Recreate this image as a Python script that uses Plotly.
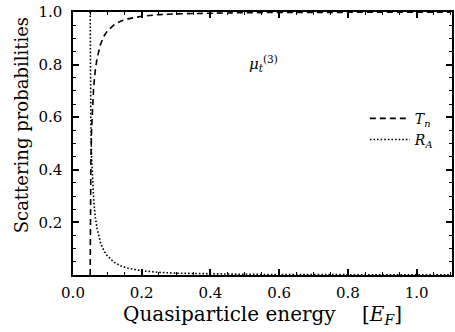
import plotly.graph_objects as go

# Quasiparticle energy [E_F]
energy = [0.05, 0.051, 0.052, 0.054, 0.056, 0.06, 0.065, 0.07, 0.08, 0.09, 0.1,
          0.12, 0.14, 0.16, 0.2, 0.25, 0.3, 0.4, 0.5, 0.6, 0.8, 1.0, 1.1]
# Andreev reflection probability R_A
r_a = [1.0, 0.671, 0.569, 0.452, 0.379, 0.288, 0.220, 0.177, 0.123, 0.092, 0.072,
       0.048, 0.034, 0.026, 0.016, 0.010, 0.007, 0.004, 0.0025, 0.0017, 0.001, 0.0006, 0.0005]
# Normal transmission probability T_n
t_n = [0.0, 0.329, 0.431, 0.548, 0.621, 0.712, 0.780, 0.823, 0.877, 0.908, 0.928,
       0.952, 0.966, 0.974, 0.984, 0.990, 0.993, 0.996, 0.9975, 0.9983, 0.999, 0.9994, 0.9995]

x_ticks = [0.0, 0.2, 0.4, 0.6, 0.8, 1.0]
y_ticks = [0.2, 0.4, 0.6, 0.8, 1.0]

FONT = "'DejaVu Serif', 'Liberation Serif', serif"

fig = go.Figure()
fig.add_trace(go.Scatter(
    x=energy, y=t_n, mode="lines", name="<i>T</i><sub><i>n</i></sub>",
    line=dict(color="black", width=1.6, dash="6px,4px"),
))
fig.add_trace(go.Scatter(
    x=energy, y=r_a, mode="lines", name="<i>R</i><sub><i>A</i></sub>",
    line=dict(color="black", width=1.6, dash="1.6px,2px"),
))

axis_common = dict(
    showgrid=False, zeroline=False, showline=True, linecolor="black", linewidth=1.5,
    mirror="ticks", ticks="inside", ticklen=6, tickwidth=1.5, tickcolor="black",
    tickfont=dict(family=FONT, size=15, color="black"),
    minor=dict(ticks="inside", ticklen=3.5, tickwidth=1, tickcolor="black", dtick=0.05),
)

fig.update_xaxes(
    range=[0, 1.103], tickvals=x_ticks, ticktext=[f"{v:.1f}" for v in x_ticks],
    ticklabelstandoff=3,
    title=dict(text="Quasiparticle energy\u2003\u00a0[<i>E</i><sub><i>F</i></sub>]",
               font=dict(family=FONT, size=20, color="black"), standoff=3),
    **axis_common,
)
fig.update_yaxes(
    range=[0, 1.0], tickvals=y_ticks, ticktext=[f"{v:.1f}" for v in y_ticks],
    ticklabelstandoff=6,
    **axis_common,
)

fig.add_annotation(
    xref="paper", yref="paper", x=-0.136, y=0.571, showarrow=False,
    xanchor="center", yanchor="middle",
    text="Scattering probabilities", textangle=-90,
    font=dict(family=FONT, size=18, color="black"),
)
fig.add_annotation(
    xref="x", yref="y", x=0.505, y=0.805, xanchor="left", showarrow=False,
    text="<i>μ<sub>t</sub></i><sup>(3)</sup>",
    font=dict(family=FONT, size=15, color="black"),
)

fig.update_layout(
    width=455, height=332,
    font=dict(family=FONT, size=14, color="black"),
    margin=dict(l=73, r=1, t=12, b=57),
    paper_bgcolor="white", plot_bgcolor="white",
    showlegend=True,
    legend=dict(x=0.77, y=0.655, xanchor="left", yanchor="top",
                bgcolor="rgba(0,0,0,0)", borderwidth=0, tracegroupgap=0,
                font=dict(family=FONT, size=14, color="black"),
                itemwidth=40),
)

fig.write_html("out.html")
